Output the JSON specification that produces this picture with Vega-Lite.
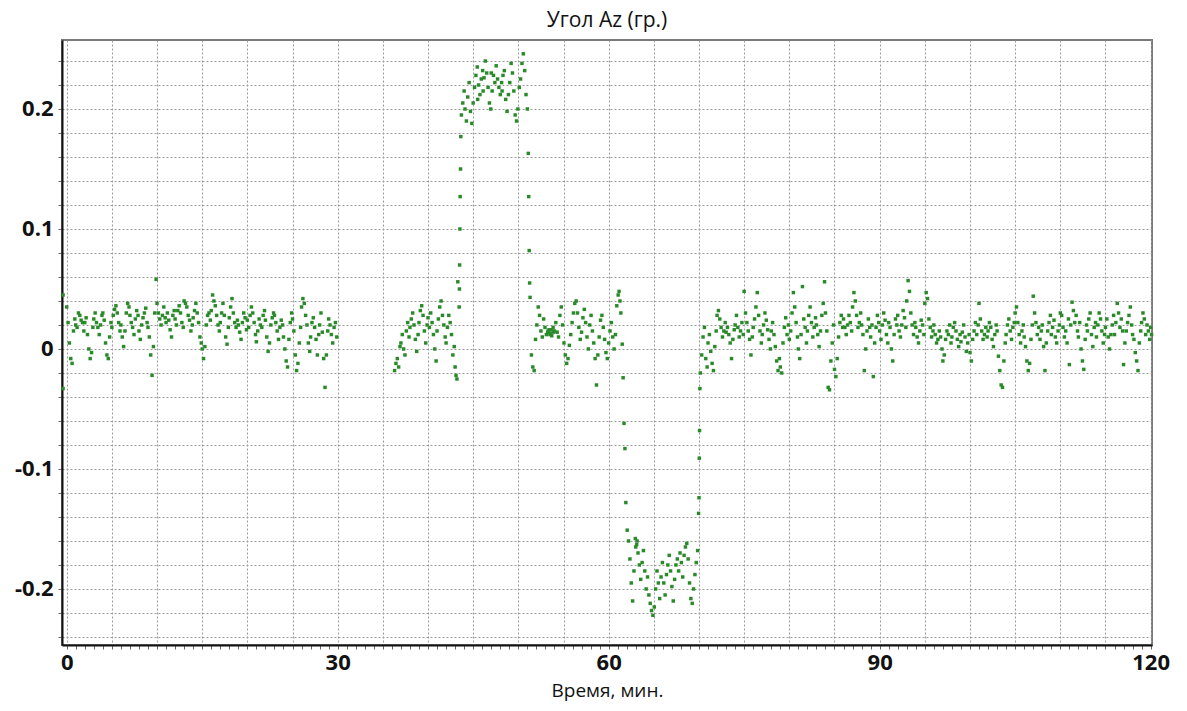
{
  "$schema": "https://vega.github.io/schema/vega-lite/v6.json",
  "autosize": "none",
  "width": 1090,
  "height": 605,
  "padding": {"left": 62, "top": 40, "right": 35, "bottom": 66},
  "background": "white",
  "title": {"text": "Угол Az (гр.)", "font": "Open Sans", "fontSize": 21, "fontWeight": "normal", "color": "#111", "anchor": "middle", "offset": 9},
  "config": {"view": {"stroke": "#7a7a7a", "strokeWidth": 2}},
  "data": {"values": [
{"t":-0.4,"v":0.045},{"t":-0.4,"v":-0.033},
{"t":0,"v":0.035},{"t":0.15,"v":0.022},{"t":0.3,"v":0.005},{"t":0.45,"v":-0.008},{"t":0.6,"v":-0.012},{"t":0.75,"v":0.015},{"t":0.9,"v":0.025},
{"t":1,"v":0.02},{"t":1.15,"v":0.018},{"t":1.3,"v":0.03},{"t":1.45,"v":0.028},{"t":1.6,"v":0.024},{"t":1.75,"v":0.022},{"t":1.9,"v":0.015},
{"t":2,"v":0.022},{"t":2.15,"v":0.026},{"t":2.3,"v":0.012},{"t":2.45,"v":0},{"t":2.6,"v":-0.008},{"t":2.75,"v":-0.003},{"t":2.9,"v":0.018},
{"t":3,"v":0.025},{"t":3.15,"v":0.03},{"t":3.3,"v":0.022},{"t":3.45,"v":0.018},{"t":3.6,"v":0.012},{"t":3.75,"v":0.02},{"t":3.9,"v":0.028},
{"t":4,"v":0.03},{"t":4.15,"v":0.024},{"t":4.3,"v":0.005},{"t":4.45,"v":-0.005},{"t":4.6,"v":-0.008},{"t":4.75,"v":0.01},{"t":4.9,"v":0.022},
{"t":5,"v":0.018},{"t":5.15,"v":0.028},{"t":5.3,"v":0.033},{"t":5.45,"v":0.036},{"t":5.6,"v":0.03},{"t":5.75,"v":0.022},{"t":5.9,"v":0.015},
{"t":6,"v":0.02},{"t":6.15,"v":0.01},{"t":6.3,"v":0.002},{"t":6.45,"v":0.015},{"t":6.6,"v":0.03},{"t":6.75,"v":0.038},{"t":6.9,"v":0.035},
{"t":7,"v":0.028},{"t":7.15,"v":0.022},{"t":7.3,"v":0.018},{"t":7.45,"v":0.012},{"t":7.6,"v":0.025},{"t":7.75,"v":0.032},{"t":7.9,"v":0.028},
{"t":8,"v":0.015},{"t":8.15,"v":0.008},{"t":8.3,"v":0.02},{"t":8.45,"v":0.026},{"t":8.6,"v":0.03},{"t":8.75,"v":0.034},{"t":8.9,"v":0.022},
{"t":9,"v":0.018},{"t":9.15,"v":0.01},{"t":9.3,"v":-0.005},{"t":9.45,"v":-0.022},{"t":9.6,"v":0.002},{"t":9.75,"v":0.03},{"t":9.9,"v":0.058},
{"t":10,"v":0.038},{"t":10.15,"v":0.03},{"t":10.3,"v":0.025},{"t":10.45,"v":0.02},{"t":10.6,"v":0.028},{"t":10.75,"v":0.035},{"t":10.9,"v":0.026},
{"t":11,"v":0.022},{"t":11.15,"v":0.03},{"t":11.3,"v":0.024},{"t":11.45,"v":0.016},{"t":11.6,"v":0.01},{"t":11.75,"v":0.028},{"t":11.9,"v":0.032},
{"t":12,"v":0.025},{"t":12.15,"v":0.02},{"t":12.3,"v":0.032},{"t":12.45,"v":0.036},{"t":12.6,"v":0.03},{"t":12.75,"v":0.022},{"t":12.9,"v":0.018},
{"t":13,"v":0.04},{"t":13.15,"v":0.038},{"t":13.3,"v":0.035},{"t":13.45,"v":0.028},{"t":13.6,"v":0.024},{"t":13.75,"v":0.015},{"t":13.9,"v":0.02},
{"t":14,"v":0.026},{"t":14.15,"v":0.032},{"t":14.3,"v":0.038},{"t":14.45,"v":0.03},{"t":14.6,"v":0.022},{"t":14.75,"v":0.01},{"t":14.9,"v":0.005},
{"t":15,"v":0},{"t":15.15,"v":-0.008},{"t":15.3,"v":0.002},{"t":15.45,"v":0.02},{"t":15.6,"v":0.028},{"t":15.75,"v":0.03},{"t":15.9,"v":0.024},
{"t":16,"v":0.032},{"t":16.15,"v":0.045},{"t":16.3,"v":0.04},{"t":16.45,"v":0.036},{"t":16.6,"v":0.028},{"t":16.75,"v":0.02},{"t":16.9,"v":0.015},
{"t":17,"v":0.022},{"t":17.15,"v":0.03},{"t":17.3,"v":0.038},{"t":17.45,"v":0.028},{"t":17.6,"v":0.01},{"t":17.75,"v":0.004},{"t":17.9,"v":0.018},
{"t":18,"v":0.026},{"t":18.15,"v":0.035},{"t":18.3,"v":0.042},{"t":18.45,"v":0.03},{"t":18.6,"v":0.022},{"t":18.75,"v":0.018},{"t":18.9,"v":0.024},
{"t":19,"v":0.02},{"t":19.15,"v":0.014},{"t":19.3,"v":0.008},{"t":19.45,"v":0.022},{"t":19.6,"v":0.03},{"t":19.75,"v":0.026},{"t":19.9,"v":0.016},
{"t":20,"v":0.024},{"t":20.15,"v":0.018},{"t":20.3,"v":0.028},{"t":20.45,"v":0.035},{"t":20.6,"v":0.03},{"t":20.75,"v":0.022},{"t":20.9,"v":0.012},
{"t":21,"v":0.006},{"t":21.15,"v":0.015},{"t":21.3,"v":0.025},{"t":21.45,"v":0.02},{"t":21.6,"v":0.018},{"t":21.75,"v":0.028},{"t":21.9,"v":0.032},
{"t":22,"v":0.024},{"t":22.15,"v":0.01},{"t":22.3,"v":-0.002},{"t":22.45,"v":0.005},{"t":22.6,"v":0.02},{"t":22.75,"v":0.026},{"t":22.9,"v":0.03},
{"t":23,"v":0.028},{"t":23.15,"v":0.022},{"t":23.3,"v":0.015},{"t":23.45,"v":0.008},{"t":23.6,"v":0.018},{"t":23.75,"v":0.024},{"t":23.9,"v":0.02},
{"t":24,"v":0.01},{"t":24.15,"v":0},{"t":24.3,"v":-0.01},{"t":24.45,"v":-0.015},{"t":24.6,"v":0.008},{"t":24.75,"v":0.022},{"t":24.9,"v":0.03},
{"t":25,"v":0.025},{"t":25.15,"v":0.015},{"t":25.3,"v":-0.005},{"t":25.45,"v":-0.018},{"t":25.6,"v":-0.012},{"t":25.75,"v":0.005},{"t":25.9,"v":0.018},
{"t":26,"v":0.035},{"t":26.15,"v":0.042},{"t":26.3,"v":0.038},{"t":26.45,"v":0.028},{"t":26.6,"v":0.02},{"t":26.75,"v":0.005},{"t":26.9,"v":-0.002},
{"t":27,"v":0.01},{"t":27.15,"v":0.022},{"t":27.3,"v":0.026},{"t":27.45,"v":0.018},{"t":27.6,"v":0.008},{"t":27.75,"v":-0.005},{"t":27.9,"v":0.012},
{"t":28,"v":0.02},{"t":28.15,"v":0.03},{"t":28.3,"v":0.014},{"t":28.45,"v":-0.008},{"t":28.6,"v":-0.032},{"t":28.75,"v":-0.005},{"t":28.9,"v":0.015},
{"t":29,"v":0.025},{"t":29.15,"v":0.02},{"t":29.3,"v":0.012},{"t":29.45,"v":0.005},{"t":29.6,"v":0.018},{"t":29.75,"v":0.022},{"t":29.9,"v":0.01},
{"t":36.3,"v":-0.018},{"t":36.45,"v":-0.012},{"t":36.6,"v":-0.008},{"t":36.75,"v":-0.015},{"t":36.9,"v":0.002},
{"t":37,"v":0.005},{"t":37.15,"v":0.012},{"t":37.3,"v":0},{"t":37.45,"v":-0.005},{"t":37.6,"v":0.015},{"t":37.75,"v":0.022},{"t":37.9,"v":0.01},
{"t":38,"v":0.018},{"t":38.15,"v":0.025},{"t":38.3,"v":0.03},{"t":38.45,"v":0.02},{"t":38.6,"v":0.008},{"t":38.75,"v":-0.002},{"t":38.9,"v":0.012},
{"t":39,"v":0.022},{"t":39.15,"v":0.032},{"t":39.3,"v":0.036},{"t":39.45,"v":0.028},{"t":39.6,"v":0.015},{"t":39.75,"v":0.005},{"t":39.9,"v":0.02},
{"t":40,"v":0.026},{"t":40.15,"v":0.018},{"t":40.3,"v":0.03},{"t":40.45,"v":0.022},{"t":40.6,"v":0.012},{"t":40.75,"v":0},{"t":40.9,"v":-0.01},
{"t":41,"v":0.015},{"t":41.15,"v":0.025},{"t":41.3,"v":0.035},{"t":41.45,"v":0.04},{"t":41.6,"v":0.028},{"t":41.75,"v":0.02},{"t":41.9,"v":0.01},
{"t":42,"v":0.005},{"t":42.15,"v":0.018},{"t":42.3,"v":0.028},{"t":42.45,"v":0.022},{"t":42.6,"v":0.012},{"t":42.75,"v":-0.005},{"t":42.9,"v":0.002},
{"t":43,"v":-0.015},{"t":43.1,"v":-0.022},{"t":43.2,"v":-0.025},{"t":43.3,"v":0.056},
{"t":43.45,"v":0.035},{"t":43.48,"v":0.05},{"t":43.5,"v":0.07},{"t":43.53,"v":0.1},{"t":43.56,"v":0.127},{"t":43.6,"v":0.15},{"t":43.63,"v":0.177},
{"t":43.7,"v":0.195},{"t":43.85,"v":0.205},{"t":44,"v":0.215},{"t":44.1,"v":0.2},{"t":44.25,"v":0.19},{"t":44.4,"v":0.21},{"t":44.55,"v":0.222},{"t":44.7,"v":0.198},{"t":44.85,"v":0.188},
{"t":45,"v":0.205},{"t":45.15,"v":0.218},{"t":45.3,"v":0.228},{"t":45.45,"v":0.235},{"t":45.5,"v":0.208},{"t":45.6,"v":0.22},{"t":45.75,"v":0.212},{"t":45.9,"v":0.225},
{"t":46.05,"v":0.232},{"t":46.1,"v":0.215},{"t":46.2,"v":0.226},{"t":46.35,"v":0.24},{"t":46.5,"v":0.23},{"t":46.65,"v":0.218},{"t":46.8,"v":0.205},{"t":46.95,"v":0.2},
{"t":47,"v":0.23},{"t":47.1,"v":0.215},{"t":47.25,"v":0.228},{"t":47.4,"v":0.222},{"t":47.55,"v":0.236},{"t":47.7,"v":0.225},{"t":47.85,"v":0.218},
{"t":48,"v":0.212},{"t":48.15,"v":0.222},{"t":48.2,"v":0.215},{"t":48.3,"v":0.228},{"t":48.45,"v":0.232},{"t":48.6,"v":0.208},{"t":48.75,"v":0.198},{"t":48.9,"v":0.212},
{"t":49.05,"v":0.222},{"t":49.2,"v":0.238},{"t":49.35,"v":0.23},{"t":49.5,"v":0.215},{"t":49.65,"v":0.195},{"t":49.8,"v":0.19},{"t":49.95,"v":0.2},
{"t":50.1,"v":0.218},{"t":50.25,"v":0.225},{"t":50.4,"v":0.238},{"t":50.55,"v":0.246},{"t":50.7,"v":0.232},{"t":50.85,"v":0.212},{"t":51,"v":0.2},
{"t":51.1,"v":0.163},{"t":51.15,"v":0.127},{"t":51.2,"v":0.082},{"t":51.25,"v":0.055},{"t":51.3,"v":0.043},
{"t":51.45,"v":-0.005},{"t":51.6,"v":-0.015},{"t":51.75,"v":-0.018},{"t":51.9,"v":0.008},{"t":52.05,"v":0.02},{"t":52.2,"v":0.035},{"t":52.35,"v":0.028},{"t":52.5,"v":0.015},{"t":52.65,"v":0.01},{"t":52.8,"v":0.025},{"t":52.95,"v":0.018},
{"t":53.1,"v":0.012},{"t":53.25,"v":0.014},{"t":53.3,"v":0.015},{"t":53.4,"v":0.016},{"t":53.5,"v":0.012},{"t":53.55,"v":0.013},{"t":53.65,"v":0.016},{"t":53.7,"v":0.011},{"t":53.85,"v":0.018},{"t":53.9,"v":0.014},
{"t":54,"v":0.015},{"t":54.15,"v":0.022},{"t":54.3,"v":0.014},{"t":54.45,"v":0.01},{"t":54.6,"v":0.028},{"t":54.75,"v":0.035},{"t":54.9,"v":0.02},
{"t":55.05,"v":0.005},{"t":55.2,"v":-0.005},{"t":55.35,"v":-0.012},{"t":55.5,"v":-0.008},{"t":55.65,"v":0.003},{"t":55.8,"v":0.012},{"t":55.95,"v":0.022},
{"t":56.1,"v":0.03},{"t":56.25,"v":0.038},{"t":56.4,"v":0.04},{"t":56.55,"v":0.03},{"t":56.7,"v":0.018},{"t":56.85,"v":0.008},
{"t":57,"v":0.014},{"t":57.15,"v":0.026},{"t":57.3,"v":0.033},{"t":57.45,"v":0.022},{"t":57.6,"v":0.01},{"t":57.75,"v":0},{"t":57.9,"v":0.02},
{"t":58.05,"v":0.028},{"t":58.2,"v":0.015},{"t":58.35,"v":0.005},{"t":58.5,"v":-0.008},{"t":58.65,"v":-0.03},{"t":58.8,"v":-0.005},{"t":58.95,"v":0.01},
{"t":59.1,"v":0.024},{"t":59.25,"v":0.028},{"t":59.4,"v":0.018},{"t":59.55,"v":0.008},{"t":59.7,"v":-0.003},{"t":59.85,"v":-0.008},
{"t":60,"v":0.005},{"t":60.15,"v":0.015},{"t":60.3,"v":0.022},{"t":60.45,"v":0.01},{"t":60.6,"v":0},{"t":60.75,"v":0.012},{"t":60.9,"v":0.036},
{"t":61.05,"v":0.045},{"t":61.15,"v":0.048},{"t":61.25,"v":0.04},{"t":61.35,"v":0.03},
{"t":61.5,"v":0.004},{"t":61.6,"v":-0.024},{"t":61.7,"v":-0.062},{"t":61.8,"v":-0.083},{"t":61.9,"v":-0.128},
{"t":62.05,"v":-0.151},{"t":62.2,"v":-0.16},{"t":62.35,"v":-0.175},{"t":62.5,"v":-0.195},{"t":62.65,"v":-0.21},{"t":62.8,"v":-0.185},{"t":62.95,"v":-0.158},
{"t":63,"v":-0.165},{"t":63.1,"v":-0.163},{"t":63.15,"v":-0.16},{"t":63.25,"v":-0.17},{"t":63.4,"v":-0.18},{"t":63.55,"v":-0.192},{"t":63.7,"v":-0.178},{"t":63.85,"v":-0.168},
{"t":64,"v":-0.185},{"t":64.15,"v":-0.2},{"t":64.3,"v":-0.19},{"t":64.45,"v":-0.205},{"t":64.6,"v":-0.212},{"t":64.75,"v":-0.218},{"t":64.9,"v":-0.222},
{"t":65.05,"v":-0.215},{"t":65.2,"v":-0.2},{"t":65.35,"v":-0.185},{"t":65.5,"v":-0.195},{"t":65.65,"v":-0.208},{"t":65.8,"v":-0.19},{"t":65.95,"v":-0.178},
{"t":66.1,"v":-0.195},{"t":66.25,"v":-0.205},{"t":66.4,"v":-0.188},{"t":66.55,"v":-0.18},{"t":66.7,"v":-0.172},{"t":66.85,"v":-0.185},
{"t":67,"v":-0.198},{"t":67.15,"v":-0.21},{"t":67.3,"v":-0.192},{"t":67.45,"v":-0.18},{"t":67.6,"v":-0.175},{"t":67.75,"v":-0.185},{"t":67.9,"v":-0.17},
{"t":68.05,"v":-0.178},{"t":68.2,"v":-0.19},{"t":68.35,"v":-0.172},{"t":68.5,"v":-0.165},{"t":68.65,"v":-0.162},{"t":68.8,"v":-0.175},{"t":68.95,"v":-0.195},
{"t":69.1,"v":-0.208},{"t":69.25,"v":-0.212},{"t":69.4,"v":-0.2},{"t":69.55,"v":-0.188},{"t":69.7,"v":-0.178},{"t":69.85,"v":-0.168},
{"t":69.95,"v":-0.137},{"t":70,"v":-0.124},{"t":70.03,"v":-0.091},{"t":70.06,"v":-0.068},{"t":70.1,"v":-0.033},{"t":70.15,"v":-0.02},
{"t":70.3,"v":-0.005},{"t":70.45,"v":0.01},{"t":70.6,"v":0.018},{"t":70.75,"v":-0.008},{"t":70.9,"v":-0.015},
{"t":71,"v":0.005},{"t":71.15,"v":0.012},{"t":71.3,"v":-0.002},{"t":71.45,"v":-0.012},{"t":71.6,"v":-0.018},{"t":71.75,"v":0.002},{"t":71.9,"v":0.015},
{"t":72,"v":0.028},{"t":72.15,"v":0.032},{"t":72.3,"v":0.025},{"t":72.45,"v":0.018},{"t":72.6,"v":0.01},{"t":72.75,"v":0.015},{"t":72.9,"v":0.022},
{"t":73,"v":0.014},{"t":73.15,"v":0.018},{"t":73.3,"v":0.012},{"t":73.45,"v":0.005},{"t":73.6,"v":-0.008},{"t":73.75,"v":0.008},{"t":73.9,"v":0.016},
{"t":74,"v":0.02},{"t":74.15,"v":0.028},{"t":74.3,"v":0.018},{"t":74.45,"v":0.01},{"t":74.6,"v":0.015},{"t":74.75,"v":0.022},{"t":74.9,"v":0.012},
{"t":75,"v":0.048},{"t":75.15,"v":0.03},{"t":75.3,"v":0.022},{"t":75.45,"v":0.015},{"t":75.6,"v":0.008},{"t":75.75,"v":-0.005},{"t":75.9,"v":0.01},
{"t":76,"v":0.018},{"t":76.15,"v":0.025},{"t":76.3,"v":0.035},{"t":76.45,"v":0.047},{"t":76.6,"v":0.028},{"t":76.75,"v":0.015},{"t":76.9,"v":0.005},
{"t":77,"v":0.012},{"t":77.15,"v":0.02},{"t":77.3,"v":0.03},{"t":77.45,"v":0.024},{"t":77.6,"v":0.016},{"t":77.75,"v":0.008},{"t":77.9,"v":0},
{"t":78,"v":0.015},{"t":78.15,"v":0.022},{"t":78.3,"v":0.012},{"t":78.45,"v":0.002},{"t":78.6,"v":-0.01},{"t":78.75,"v":-0.018},{"t":78.9,"v":-0.008},
{"t":79,"v":-0.015},{"t":79.15,"v":-0.02},{"t":79.3,"v":0.005},{"t":79.45,"v":0.018},{"t":79.6,"v":0.026},{"t":79.75,"v":0.012},{"t":79.9,"v":0.02},
{"t":80,"v":0.008},{"t":80.15,"v":0.015},{"t":80.3,"v":0.03},{"t":80.45,"v":0.047},{"t":80.6,"v":0.035},{"t":80.75,"v":0.022},{"t":80.9,"v":0.01},
{"t":81,"v":0},{"t":81.15,"v":-0.008},{"t":81.3,"v":0.012},{"t":81.45,"v":0.052},{"t":81.6,"v":0.025},{"t":81.75,"v":0.018},{"t":81.9,"v":0.005},
{"t":82,"v":0.015},{"t":82.15,"v":0.028},{"t":82.3,"v":0.035},{"t":82.45,"v":0.022},{"t":82.6,"v":0.01},{"t":82.75,"v":0.018},{"t":82.9,"v":0.026},
{"t":83,"v":0.02},{"t":83.15,"v":0.012},{"t":83.3,"v":0.002},{"t":83.45,"v":0.015},{"t":83.6,"v":0.028},{"t":83.75,"v":0.038},{"t":83.9,"v":0.056},
{"t":84,"v":0.03},{"t":84.15,"v":0.015},{"t":84.3,"v":-0.032},{"t":84.45,"v":-0.034},{"t":84.6,"v":-0.01},{"t":84.75,"v":0.005},{"t":84.9,"v":0.02},
{"t":85,"v":-0.017},{"t":85.15,"v":-0.023},{"t":85.3,"v":-0.008},{"t":85.45,"v":0.01},{"t":85.6,"v":0.022},{"t":85.75,"v":0.028},{"t":85.9,"v":0.018},
{"t":86,"v":0.025},{"t":86.15,"v":0.018},{"t":86.3,"v":0.012},{"t":86.45,"v":0.02},{"t":86.6,"v":0.028},{"t":86.75,"v":0.022},{"t":86.9,"v":0.015},
{"t":87,"v":0.035},{"t":87.15,"v":0.047},{"t":87.3,"v":0.04},{"t":87.45,"v":0.028},{"t":87.6,"v":0.018},{"t":87.75,"v":0.022},{"t":87.9,"v":0.03},
{"t":88,"v":0.02},{"t":88.15,"v":0.012},{"t":88.3,"v":-0.018},{"t":88.45,"v":0},{"t":88.6,"v":0.015},{"t":88.75,"v":0.025},{"t":88.9,"v":0.018},
{"t":89,"v":0.01},{"t":89.15,"v":0.02},{"t":89.3,"v":-0.023},{"t":89.45,"v":0.005},{"t":89.6,"v":0.018},{"t":89.75,"v":0.028},{"t":89.9,"v":0.022},
{"t":90,"v":0.015},{"t":90.15,"v":0.008},{"t":90.3,"v":0.02},{"t":90.45,"v":0.03},{"t":90.6,"v":0.024},{"t":90.75,"v":0.012},{"t":90.9,"v":0.005},
{"t":91,"v":0.022},{"t":91.15,"v":0.018},{"t":91.3,"v":0},{"t":91.45,"v":-0.01},{"t":91.6,"v":0.012},{"t":91.75,"v":0.025},{"t":91.9,"v":0.02},
{"t":92,"v":0.028},{"t":92.15,"v":0.015},{"t":92.3,"v":0.01},{"t":92.45,"v":0.02},{"t":92.6,"v":0.032},{"t":92.75,"v":0.026},{"t":92.9,"v":0.018},
{"t":93,"v":0.04},{"t":93.15,"v":0.057},{"t":93.3,"v":0.048},{"t":93.45,"v":0.03},{"t":93.6,"v":0.02},{"t":93.75,"v":0.012},{"t":93.9,"v":0.022},
{"t":94,"v":0.018},{"t":94.15,"v":0.01},{"t":94.3,"v":0.005},{"t":94.45,"v":0.015},{"t":94.6,"v":0.024},{"t":94.75,"v":0.02},{"t":94.9,"v":0.012},
{"t":95,"v":0.038},{"t":95.15,"v":0.047},{"t":95.3,"v":0.042},{"t":95.45,"v":0.025},{"t":95.6,"v":0.018},{"t":95.75,"v":0.01},{"t":95.9,"v":0.015},
{"t":96,"v":0.02},{"t":96.15,"v":0.012},{"t":96.3,"v":0.005},{"t":96.45,"v":0.008},{"t":96.6,"v":0.015},{"t":96.75,"v":0.01},{"t":96.9,"v":0},
{"t":97,"v":-0.01},{"t":97.15,"v":-0.005},{"t":97.3,"v":0.008},{"t":97.45,"v":0.015},{"t":97.6,"v":0.012},{"t":97.75,"v":0.02},{"t":97.9,"v":0.005},
{"t":98,"v":0.01},{"t":98.15,"v":0.018},{"t":98.3,"v":0.022},{"t":98.45,"v":0.015},{"t":98.6,"v":0.008},{"t":98.75,"v":0.002},{"t":98.9,"v":0.012},
{"t":99,"v":0.006},{"t":99.15,"v":0.014},{"t":99.3,"v":0.02},{"t":99.45,"v":0.01},{"t":99.6,"v":-0.002},{"t":99.75,"v":0.005},{"t":99.9,"v":0.012},
{"t":100,"v":-0.003},{"t":100.15,"v":-0.01},{"t":100.3,"v":0.008},{"t":100.45,"v":0.015},{"t":100.6,"v":0.022},{"t":100.75,"v":0.012},{"t":100.9,"v":0.02},
{"t":101,"v":0.038},{"t":101.15,"v":0.025},{"t":101.3,"v":0.015},{"t":101.45,"v":0.008},{"t":101.6,"v":0.012},{"t":101.75,"v":0.018},{"t":101.9,"v":0.01},
{"t":102,"v":0.015},{"t":102.15,"v":0.022},{"t":102.3,"v":0.018},{"t":102.45,"v":0.008},{"t":102.6,"v":0.002},{"t":102.75,"v":0.012},{"t":102.9,"v":0.02},
{"t":103,"v":0.015},{"t":103.15,"v":-0.006},{"t":103.3,"v":-0.018},{"t":103.45,"v":-0.03},{"t":103.6,"v":-0.032},{"t":103.75,"v":-0.01},{"t":103.9,"v":0.005},
{"t":104,"v":0.012},{"t":104.15,"v":0.02},{"t":104.3,"v":0.025},{"t":104.45,"v":0.015},{"t":104.6,"v":0.008},{"t":104.75,"v":0.018},{"t":104.9,"v":0.022},
{"t":105,"v":0.03},{"t":105.15,"v":0.035},{"t":105.3,"v":0.022},{"t":105.45,"v":0.012},{"t":105.6,"v":0.005},{"t":105.75,"v":0.015},{"t":105.9,"v":0.02},
{"t":106,"v":0.01},{"t":106.15,"v":0.002},{"t":106.3,"v":-0.01},{"t":106.45,"v":-0.018},{"t":106.6,"v":-0.012},{"t":106.75,"v":0.008},{"t":106.9,"v":0.02},
{"t":107,"v":0.044},{"t":107.15,"v":0.03},{"t":107.3,"v":0.022},{"t":107.45,"v":0.012},{"t":107.6,"v":0.018},{"t":107.75,"v":0.008},{"t":107.9,"v":0.015},
{"t":108,"v":0.02},{"t":108.15,"v":0.002},{"t":108.3,"v":-0.018},{"t":108.45,"v":0.005},{"t":108.6,"v":0.015},{"t":108.75,"v":0.022},{"t":108.9,"v":0.028},
{"t":109,"v":0.012},{"t":109.15,"v":0.018},{"t":109.3,"v":0.024},{"t":109.45,"v":0.01},{"t":109.6,"v":0.005},{"t":109.75,"v":0.015},{"t":109.9,"v":0.02},
{"t":110,"v":0.03},{"t":110.15,"v":0.028},{"t":110.3,"v":0.018},{"t":110.45,"v":0.01},{"t":110.6,"v":0.015},{"t":110.75,"v":0.005},{"t":110.9,"v":0.025},
{"t":111,"v":-0.013},{"t":111.15,"v":0.02},{"t":111.3,"v":0.039},{"t":111.45,"v":0.032},{"t":111.6,"v":0.022},{"t":111.75,"v":0.028},{"t":111.9,"v":0.015},
{"t":112,"v":0.01},{"t":112.15,"v":0.022},{"t":112.3,"v":0},{"t":112.45,"v":-0.01},{"t":112.6,"v":-0.017},{"t":112.75,"v":0.008},{"t":112.9,"v":0.02},
{"t":113,"v":0.015},{"t":113.15,"v":0.025},{"t":113.3,"v":0.03},{"t":113.45,"v":0.012},{"t":113.6,"v":0.002},{"t":113.75,"v":0.018},{"t":113.9,"v":0.022},
{"t":114,"v":0.01},{"t":114.15,"v":0.02},{"t":114.3,"v":0.03},{"t":114.45,"v":0.025},{"t":114.6,"v":0.015},{"t":114.75,"v":0.005},{"t":114.9,"v":0.012},
{"t":115,"v":0.018},{"t":115.15,"v":0.025},{"t":115.3,"v":0.01},{"t":115.45,"v":0},{"t":115.6,"v":0.012},{"t":115.75,"v":0.02},{"t":115.9,"v":0.028},
{"t":116,"v":0.012},{"t":116.15,"v":0.022},{"t":116.3,"v":0.038},{"t":116.45,"v":0.03},{"t":116.6,"v":0.018},{"t":116.75,"v":0.025},{"t":116.9,"v":0.015},
{"t":117,"v":-0.013},{"t":117.15,"v":0.005},{"t":117.3,"v":0.015},{"t":117.45,"v":0.022},{"t":117.6,"v":0.028},{"t":117.75,"v":0.035},{"t":117.9,"v":0.02},
{"t":118,"v":0.012},{"t":118.15,"v":0.008},{"t":118.3,"v":-0.003},{"t":118.45,"v":-0.01},{"t":118.6,"v":-0.018},{"t":118.75,"v":0.005},{"t":118.9,"v":0.015},
{"t":119,"v":0.022},{"t":119.15,"v":0.03},{"t":119.3,"v":0.025},{"t":119.45,"v":0.012},{"t":119.6,"v":0.02},{"t":119.75,"v":0.015},{"t":119.9,"v":0.008},
{"t":120,"v":0.018},{"t":120.1,"v":0.012}
  ]},
  "mark": {"type": "square", "size": 12, "color": "#2a8a2a", "opacity": 1, "filled": true},
  "encoding": {
    "x": {
      "field": "t", "type": "quantitative",
      "scale": {"domain": [-0.52, 120.15], "nice": false, "zero": false},
      "axis": {
        "title": "Время, мин.",
        "titleFont": "Open Sans", "titleFontSize": 19, "titleFontWeight": "normal", "titleColor": "#111", "titlePadding": 8,
        "values": [0,1,2,3,4,5,6,7,8,9,10,11,12,13,14,15,16,17,18,19,20,21,22,23,24,25,26,27,28,29,30,31,32,33,34,35,36,37,38,39,40,41,42,43,44,45,46,47,48,49,50,51,52,53,54,55,56,57,58,59,60,61,62,63,64,65,66,67,68,69,70,71,72,73,74,75,76,77,78,79,80,81,82,83,84,85,86,87,88,89,90,91,92,93,94,95,96,97,98,99,100,101,102,103,104,105,106,107,108,109,110,111,112,113,114,115,116,117,118,119,120],
        "labelExpr": "datum.value % 30 === 0 ? datum.label : ''",
        "labelFont": "Open Sans", "labelFontSize": 22, "labelFontWeight": "bold", "labelColor": "#111",
        "labelFlush": false, "labelOverlap": false, "labelBound": false, "labelPadding": 3,
        "domainColor": "#111", "domainWidth": 2,
        "tickColor": "#666", "tickSize": 4, "tickWidth": 1,
        "grid": true, "gridColor": "#999", "gridDash": [2, 2], "gridWidth": 1,
        "gridOpacity": {"condition": {"test": "datum.value % 5 === 0", "value": 1}, "value": 0}
      }
    },
    "y": {
      "field": "v", "type": "quantitative",
      "scale": {"domain": [-0.2467, 0.2575], "nice": false, "zero": false},
      "axis": {
        "title": null,
        "values": [-0.24,-0.22,-0.2,-0.18,-0.16,-0.14,-0.12,-0.1,-0.08,-0.06,-0.04,-0.02,0,0.02,0.04,0.06,0.08,0.1,0.12,0.14,0.16,0.18,0.2,0.22,0.24],
        "labelExpr": "datum.value == 0.2 ? '0.2' : datum.value == 0.1 ? '0.1' : datum.value == 0 ? '0' : datum.value == -0.1 ? '-0.1' : datum.value == -0.2 ? '-0.2' : ''",
        "labelFont": "Open Sans", "labelFontSize": 22, "labelFontWeight": "bold", "labelColor": "#111",
        "labelPadding": 5, "labelOverlap": false, "labelBound": false, "labelFlush": false,
        "domainColor": "#111", "domainWidth": 2,
        "tickColor": "#666", "tickSize": 4, "tickWidth": 1,
        "grid": true, "gridColor": "#999", "gridDash": [2, 2], "gridWidth": 1
      }
    }
  }
}
